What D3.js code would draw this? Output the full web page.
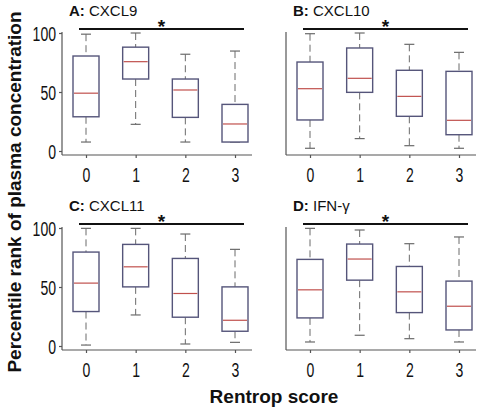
<!DOCTYPE html>
<html>
<head>
<meta charset="utf-8">
<script src="https://cdn.jsdelivr.net/npm/d3@7"></script>
<style>
  html, body { margin: 0; padding: 0; background: #fff; }
  svg { display: block; }
</style>
</head>
<body>
<svg id="chart" width="487" height="413"></svg>
<script>
// ---- Data (five-number summaries: [low whisker, Q1, median, Q3, high whisker]) ----
const categories = ["0", "1", "2", "3"];
const yTicks = [0, 50, 100];
const panelLetters = ["A:", "B:", "C:", "D:"];
const panelNames = ["CXCL9", "CXCL10", "CXCL11", "IFN-\u03b3"];
const cxcl9  = [[7.6, 29, 49, 80.5, 99], [22.6, 61, 75.7, 88, 100], [7.6, 28.5, 51.7, 61, 82], [7.6, 7.6, 22.9, 39.5, 84.7]];
const cxcl10 = [[2.3, 26.3, 52.8, 75.4, 99.4], [10.5, 49.7, 61.6, 87.3, 100], [4.5, 29.4, 46.3, 68.4, 90.4], [2.3, 13.8, 26, 67.5, 83.6]];
const cxcl11 = [[0.8, 29.2, 53.3, 79.6, 99.7], [26.3, 50.1, 67.1, 86.1, 99.7], [1.7, 24.4, 44.5, 74.2, 94.9], [3.1, 12.5, 21.8, 50.1, 81.9]];
const ifng   = [[3.4, 23.8, 47.6, 73.4, 99.7], [9.1, 55.8, 73.7, 86.4, 98.3], [6.2, 28.3, 45.9, 67.4, 86.7], [3.4, 13.6, 33.7, 55, 92.4]];
const panelData = [cxcl9, cxcl10, cxcl11, ifng];
const significance = ["*", "*", "*", "*"];
const yLabel = "Percentile rank of plasma concentration";
const xLabel = "Rentrop score";

// ---- Layout ----
const svg = d3.select("#chart");
const panelOrigins = [[0, 0], [224, 0], [0, 195], [224, 195]];
const textFont = "'Liberation Sans', Arial, Helvetica, sans-serif";
const squeeze = 0.72; // condensed look for tick digits
const boxStroke = "#55557a";
const medianColor = "#c0504d";
const whiskerColor = "#6a6a6a";
const axisColor = "#555";

panelData.forEach((data, i) => {
  const [ox, oy] = panelOrigins[i];
  const g = svg.append("g").attr("transform", `translate(${ox},${oy})`);
  const axisX = 62, axisRight = 252, axisY = 155;
  const x = d3.scalePoint().domain(categories).range([86, 235]);
  const y = d3.scaleLinear().domain([0, 100]).range([151, 33]);
  const boxW = 26, capW = 10;

  // y axis
  const yAxis = d3.axisLeft(y).tickValues(yTicks).tickSize(3).tickSizeOuter(0)
    .tickFormat(i % 2 === 0 ? d3.format("d") : () => "");
  const yg = g.append("g").attr("transform", `translate(${axisX},0)`).call(yAxis);
  yg.select(".domain").attr("d", `M0,${y(100) - 1}V${axisY}`);
  if (i % 2 === 1) yg.selectAll(".tick line").remove();
  yg.selectAll("line, path").attr("stroke", axisColor).attr("stroke-width", 1.2);
  yg.selectAll("text").attr("font-family", textFont).attr("font-size", 19.5)
    .attr("fill", "#111").attr("x", -6 / squeeze).attr("dy", "0.36em")
    .attr("transform", `scale(${squeeze},1)`);

  // x axis
  const xAxis = d3.axisBottom(x).tickSize(3).tickSizeOuter(0);
  const xg = g.append("g").attr("transform", `translate(0,${axisY})`).call(xAxis);
  xg.select(".domain").attr("d", `M${axisX},0H${axisRight}`);
  xg.selectAll("line, path").attr("stroke", axisColor).attr("stroke-width", 1.2);
  xg.selectAll("text").attr("font-family", textFont).attr("font-size", 19.5)
    .attr("fill", "#111").attr("y", 27).attr("dy", 0)
    .attr("transform", `scale(${squeeze},1)`);

  // boxes
  const bx = g.selectAll(".box").data(data).enter().append("g")
    .attr("transform", (d, k) => `translate(${x(categories[k])},0)`);
  bx.append("line").attr("x1", 0).attr("x2", 0)
    .attr("y1", d => y(d[4])).attr("y2", d => y(d[3]))
    .attr("stroke", whiskerColor).attr("stroke-width", 1).attr("stroke-dasharray", "7,4");
  bx.append("line").attr("x1", 0).attr("x2", 0)
    .attr("y1", d => y(d[1])).attr("y2", d => y(d[0]))
    .attr("stroke", whiskerColor).attr("stroke-width", 1).attr("stroke-dasharray", "7,4");
  bx.append("line").attr("x1", -capW / 2).attr("x2", capW / 2)
    .attr("y1", d => y(d[4])).attr("y2", d => y(d[4]))
    .attr("stroke", whiskerColor).attr("stroke-width", 1.2);
  bx.append("line").attr("x1", -capW / 2).attr("x2", capW / 2)
    .attr("y1", d => y(d[0])).attr("y2", d => y(d[0]))
    .attr("stroke", whiskerColor).attr("stroke-width", 1.2);
  bx.append("rect").attr("x", -boxW / 2).attr("width", boxW)
    .attr("y", d => y(d[3])).attr("height", d => y(d[1]) - y(d[3]))
    .attr("fill", "#fff").attr("stroke", boxStroke).attr("stroke-width", 1.4);
  bx.append("line").attr("x1", -boxW / 2 + 1).attr("x2", boxW / 2 - 1)
    .attr("y1", d => y(d[2])).attr("y2", d => y(d[2]))
    .attr("stroke", medianColor).attr("stroke-width", 1.2);

  // significance bar
  const barY = 29;
  const x0 = x(categories[0]) - 7, x1 = x(categories[categories.length - 1]) + 9;
  g.append("line").attr("x1", x0).attr("x2", x1).attr("y1", barY).attr("y2", barY)
    .attr("stroke", "#111").attr("stroke-width", 2);
  g.append("text").attr("x", (x0 + x1) / 2).attr("y", 33)
    .attr("text-anchor", "middle").attr("font-family", textFont)
    .attr("font-weight", "bold").attr("font-size", 19).attr("fill", "#111")
    .text(significance[i]);

  // title
  const t = g.append("text").attr("x", 69).attr("y", 16)
    .attr("font-family", textFont).attr("font-size", 15).attr("fill", "#111");
  t.append("tspan").attr("font-weight", "bold").text(panelLetters[i]);
  t.append("tspan").text(" " + panelNames[i]);
});

// axis titles
svg.append("text").attr("transform", "translate(21,192) rotate(-90)")
  .attr("text-anchor", "middle").attr("font-family", textFont)
  .attr("font-weight", "bold").attr("font-size", 19).attr("fill", "#111")
  .text(yLabel);
svg.append("text").attr("x", 274).attr("y", 403)
  .attr("text-anchor", "middle").attr("font-family", textFont)
  .attr("font-weight", "bold").attr("font-size", 19).attr("fill", "#111")
  .text(xLabel);
</script>
</body>
</html>
